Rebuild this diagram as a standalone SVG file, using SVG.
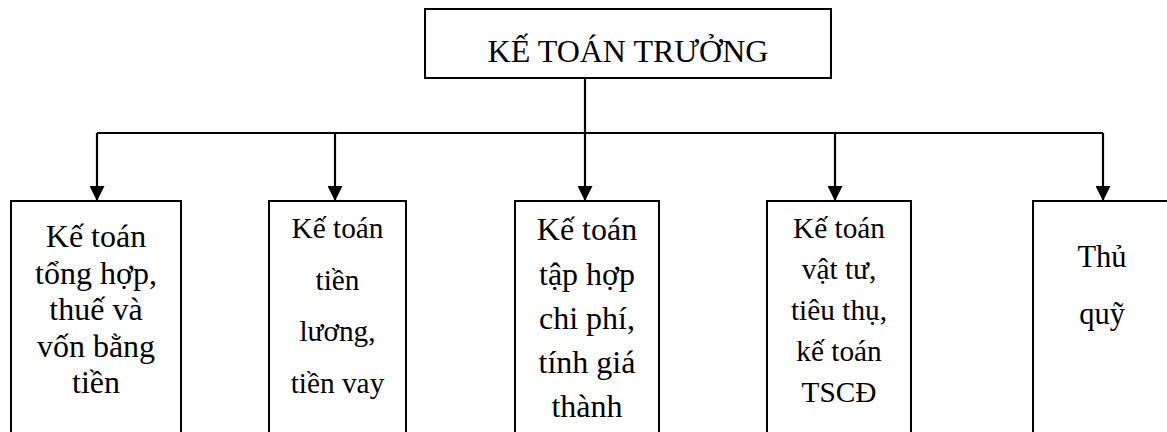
<svg xmlns="http://www.w3.org/2000/svg" width="1167" height="432" viewBox="0 0 1167 432">
<defs>
<style>
.box{fill:#fff;stroke:#000;stroke-width:2}
.ln{fill:none;stroke:#000;stroke-width:2.2}
.t{font-family:"Liberation Serif","Times New Roman",serif;fill:#000;text-anchor:middle}
.t32{font-size:32px}
.t29{font-size:29.3px}
.t30{font-size:30.5px}
</style>
<marker id="ah" markerWidth="16" markerHeight="15" refX="15" refY="7.5" orient="auto" markerUnits="userSpaceOnUse">
<path d="M0,0 L15,7.5 L0,15 Z" fill="#000"/>
</marker>
</defs>
<rect width="1167" height="432" fill="#fff"/>
<g id="connectors">
<line class="ln" x1="585" y1="78" x2="585" y2="133"/>
<line class="ln" x1="97" y1="133" x2="1103" y2="133"/>
<line class="ln" x1="97" y1="133" x2="97" y2="201" marker-end="url(#ah)"/>
<line class="ln" x1="335" y1="133" x2="335" y2="201" marker-end="url(#ah)"/>
<line class="ln" x1="585" y1="133" x2="585" y2="201" marker-end="url(#ah)"/>
<line class="ln" x1="835" y1="133" x2="835" y2="201" marker-end="url(#ah)"/>
<line class="ln" x1="1103" y1="133" x2="1103" y2="201" marker-end="url(#ah)"/>
</g>
<g id="ke-toan-truong">
<rect class="box" x="425" y="9" width="406" height="69"/>
<text class="t t32" x="628" y="62">KẾ TOÁN TRƯỞNG</text>
</g>
<g id="node1">
<rect class="box" x="11" y="201" width="170" height="245"/>
<text class="t t32"><tspan x="96" y="247">Kế toán</tspan><tspan x="96" y="283.5">tổng hợp,</tspan><tspan x="96" y="320">thuế và</tspan><tspan x="96" y="356.5">vốn bằng</tspan><tspan x="96" y="393">tiền</tspan></text>
</g>
<g id="node2">
<rect class="box" x="269" y="201" width="137" height="245"/>
<text class="t t29"><tspan x="337.5" y="238">Kế toán</tspan><tspan x="337.5" y="290">tiền</tspan><tspan x="337.5" y="341">lương,</tspan><tspan x="337.5" y="393">tiền vay</tspan></text>
</g>
<g id="node3">
<rect class="box" x="515" y="201" width="144" height="245"/>
<text class="t t32"><tspan x="587" y="240">Kế toán</tspan><tspan x="587" y="284.5">tập hợp</tspan><tspan x="587" y="329">chi phí,</tspan><tspan x="587" y="373">tính giá</tspan><tspan x="587" y="417">thành</tspan></text>
</g>
<g id="node4">
<rect class="box" x="767" y="201" width="144" height="245"/>
<text class="t t29"><tspan x="839" y="238">Kế toán</tspan><tspan x="839" y="279">vật tư,</tspan><tspan x="839" y="320">tiêu thụ,</tspan><tspan x="839" y="361">kế toán</tspan><tspan x="839" y="402">TSCĐ</tspan></text>
</g>
<g id="node5">
<rect class="box" x="1033" y="201" width="145" height="245"/>
<text class="t t30"><tspan x="1102" y="267">Thủ</tspan><tspan x="1102" y="324">quỹ</tspan></text>
</g>
</svg>
